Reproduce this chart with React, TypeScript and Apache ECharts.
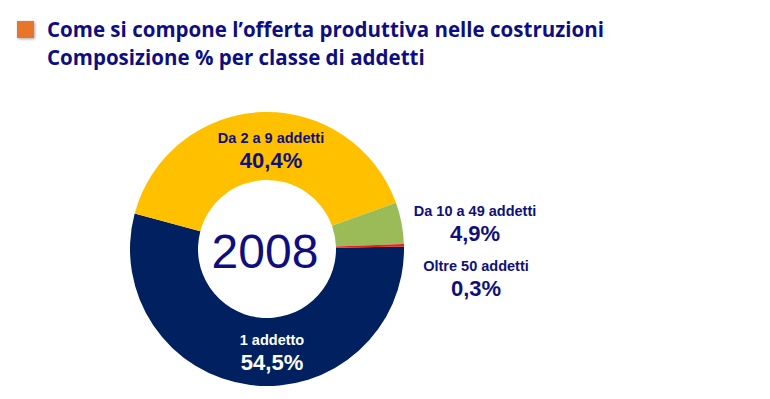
import React, { useEffect, useRef } from "react";
import * as echarts from "echarts";

const titleLines = [
  "Come si compone l\u2019offerta produttiva nelle costruzioni",
  "Composizione % per classe di addetti",
];
const yearLabel = "2008";
const categories = ["1 addetto", "Da 2 a 9 addetti", "Da 10 a 49 addetti", "Oltre 50 addetti"];
const values = [54.5, 40.4, 4.9, 0.3];
const sliceColors = ["#002060", "#FFC000", "#9BBB59", "#E8201C"];
const labelColors = ["#FFFFFF", "#10107A", "#10107A", "#10107A"];
const labelSpots = [
  [272, 351],
  [271, 149],
  [475, 222],
  [476, 277],
];

export default function App() {
  const ref = useRef<HTMLDivElement>(null);
  useEffect(() => {
    document.body.style.margin = "0";
    const chart = echarts.init(ref.current!, null, { renderer: "svg" });
    const navy = "#0E0E80";
    chart.setOption({
      animation: false,
      backgroundColor: "#FFFFFF",
      graphic: [
        {
          type: "rect",
          shape: { x: 17, y: 21, width: 17, height: 17 },
          style: { fill: "#E8762B", shadowBlur: 3, shadowColor: "rgba(0,0,0,0.35)", shadowOffsetX: 1, shadowOffsetY: 1 },
        },
        {
          type: "text",
          x: 47,
          y: 28,
          scaleX: 0.933,
          style: {
            text: titleLines[0],
            font: "bold 22px 'Open Sans', sans-serif",
            fill: navy,
            verticalAlign: "middle",
          },
        },
        {
          type: "text",
          x: 47,
          y: 56,
          scaleX: 0.933,
          style: {
            text: titleLines[1],
            font: "bold 22px 'Open Sans', sans-serif",
            fill: navy,
            verticalAlign: "middle",
          },
        },
        {
          type: "text",
          x: 265,
          y: 251,
          style: {
            text: yearLabel,
            font: "48px 'Liberation Sans', Arial, sans-serif",
            fill: navy,
            align: "center",
            verticalAlign: "middle",
          },
        },
      ],
      series: [
        {
          type: "pie",
          center: [267, 249],
          radius: [69, 137],
          startAngle: 1,
          clockwise: true,
          avoidLabelOverlap: false,
          labelLine: { show: false },
          data: categories.map((name, i) => ({
            name,
            value: values[i],
            itemStyle: { color: sliceColors[i] },
            label: {
              show: true,
              position: i >= 2 ? "outside" : "inside",
              formatter: (p: any) =>
                `{n|${p.name}}\n{v|${p.value.toFixed(1).replace(".", ",")}%}`,
              rich: {
                n: {
                  fontFamily: "'Liberation Sans', Arial, sans-serif",
                  fontWeight: "bold",
                  fontSize: 14.5,
                  lineHeight: 22,
                  color: labelColors[i],
                  align: "center",
                },
                v: {
                  fontFamily: "'Liberation Sans', Arial, sans-serif",
                  fontWeight: "bold",
                  fontSize: 22,
                  lineHeight: 22,
                  color: labelColors[i],
                  align: "center",
                },
              },
            },
          })),
          labelLayout: (params: any) => ({
            x: labelSpots[params.dataIndex][0],
            y: labelSpots[params.dataIndex][1],
            align: "center",
            verticalAlign: "middle",
          }),
        },
      ],
    });
    return () => chart.dispose();
  }, []);
  return <div ref={ref} style={{ width: 770, height: 399 }} />;
}
